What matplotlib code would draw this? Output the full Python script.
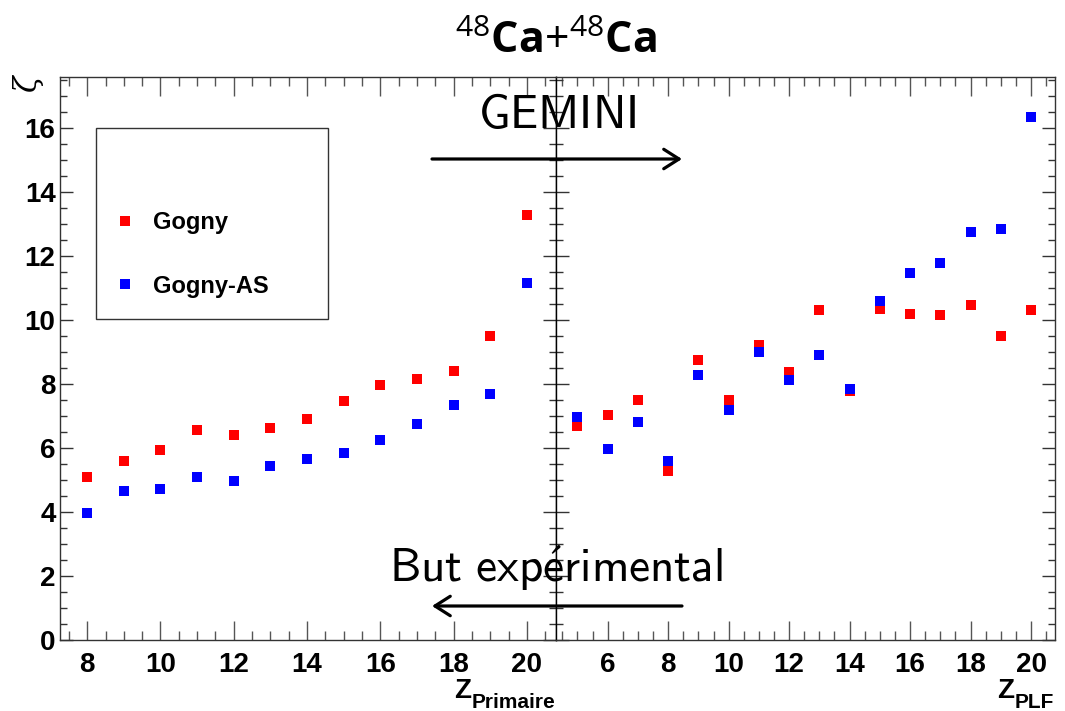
import numpy as np
import matplotlib
matplotlib.use("Agg")
import matplotlib.pyplot as plt
from matplotlib.ticker import MultipleLocator
from matplotlib.patches import Rectangle
from matplotlib.lines import Line2D

# donnees
z_prim = [8, 9, 10, 11, 12, 13, 14, 15, 16, 17, 18, 19, 20]
gogny_prim = [5.09, 5.58, 5.93, 6.55, 6.40, 6.63, 6.89, 7.45, 7.95, 8.16, 8.41, 9.49, 13.27]
gognyas_prim = [3.96, 4.65, 4.70, 5.09, 4.95, 5.44, 5.66, 5.83, 6.25, 6.74, 7.34, 7.68, 11.14]

z_plf = [5, 6, 7, 8, 9, 10, 11, 12, 13, 14, 15, 16, 17, 18, 19, 20]
gogny_plf = [6.69, 7.04, 7.48, 5.26, 8.75, 7.48, 9.20, 8.38, 10.30, 7.79, 10.35, 10.20, 10.15, 10.48, 9.49, 10.32]
gognyas_plf = [6.96, 5.96, 6.79, 5.60, 8.28, 7.19, 9.00, 8.12, 8.91, 7.83, 10.58, 11.48, 11.78, 12.75, 12.83, 16.36]

plt.rcParams['mathtext.fontset'] = 'custom'
plt.rcParams['mathtext.rm'] = 'Open Sans'
plt.rcParams['mathtext.bf'] = 'Open Sans:bold'

W, H = 1065, 711
fig = plt.figure(figsize=(W / 100, H / 100), dpi=100)

def fx(px):
    return px / W

def fy(py):
    return 1 - py / H

bottom = fy(639.5)
height = fy(77) - bottom
ax1 = fig.add_axes([fx(59.7), bottom, fx(556.3) - fx(59.7), height])
ax2 = fig.add_axes([fx(556.3), bottom, fx(1055.2) - fx(556.3), height])

ax1.plot(z_prim, gogny_prim, 's', color='#ff0000', ms=7.5, mew=0)
ax1.plot(z_prim, gognyas_prim, 's', color='#0000ff', ms=7.5, mew=0)
ax2.plot(z_plf, gogny_plf, 's', color='#ff0000', ms=7.5, mew=0)
ax2.plot(z_plf, gognyas_plf, 's', color='#0000ff', ms=7.5, mew=0)

ax1.set_xlim(7.25, 20.8)
ax2.set_xlim(4.3, 20.8)

for ax in (ax1, ax2):
    ax.set_ylim(0, 17.6)
    ax.xaxis.set_major_locator(MultipleLocator(2))
    ax.xaxis.set_minor_locator(MultipleLocator(0.5))
    ax.yaxis.set_major_locator(MultipleLocator(2))
    ax.yaxis.set_minor_locator(MultipleLocator(0.5))
    ax.tick_params(axis='x', which='major', direction='in', length=13.7, width=1,
                   top=True, bottom=True, color='#555555', pad=9,
                   labelsize=20)
    ax.tick_params(axis='x', which='minor', direction='in', length=6.8, width=1,
                   top=True, bottom=True, color='#555555')
    ax.tick_params(axis='y', which='major', direction='in', length=9.4, width=1,
                   left=True, right=True, color='#333333', pad=3, labelsize=20)
    ax.tick_params(axis='y', which='minor', direction='in', length=5, width=1,
                   left=True, right=True, color='#333333')
    for lab in ax.get_xticklabels() + ax.get_yticklabels():
        lab.set_fontweight('bold')
        lab.set_family('Liberation Sans')
    for sp in ax.spines.values():
        sp.set_color('#333333')
        sp.set_linewidth(1)

ax2.tick_params(axis='y', labelleft=False)
ax1.spines['right'].set_color('black')
ax2.spines['left'].set_color('black')

# titre
fig.text(fx(556), fy(53), r'${}^{\mathrm{48}}\mathbf{Ca}{+}{}^{\mathrm{48}}\mathbf{Ca}$',
         ha='center', va='baseline', fontsize=31)

# titres des axes
fig.text(fx(471), fy(698), 'Z', ha='right', va='baseline', fontsize=20,
         family='Liberation Sans', weight='bold')
fig.text(fx(472), fy(708), 'Primaire', ha='left', va='baseline', fontsize=15,
         family='Liberation Sans', weight='bold')
fig.text(fx(1014), fy(698), 'Z', ha='right', va='baseline', fontsize=20,
         family='Liberation Sans', weight='bold')
fig.text(fx(1015), fy(708), 'PLF', ha='left', va='baseline', fontsize=15,
         family='Liberation Sans', weight='bold')
fig.text(fx(28), fy(84), 'ζ', ha='center', va='center', rotation=90,
         fontsize=22, family='DejaVu Serif', style='italic')

# legende
fig.patches.append(Rectangle((fx(96), fy(319)), fx(328) - fx(96), fy(128) - fy(319),
                             transform=fig.transFigure, fill=False,
                             edgecolor='#333333', lw=1))
handles = [Line2D([], [], ls='none', marker='s', color='#ff0000', ms=7.5, mew=0),
           Line2D([], [], ls='none', marker='s', color='#0000ff', ms=7.5, mew=0)]
leg = fig.legend(handles, ['Gogny', 'Gogny-AS'], loc='center left',
                 bbox_to_anchor=(fx(113), fy(254.5)), frameon=False,
                 prop={'family': 'Liberation Sans', 'weight': 'bold', 'size': 17},
                 labelspacing=1.7, handletextpad=0.7, handlelength=1.0,
                 borderpad=0, borderaxespad=0)

# fleches et textes GEMINI
fig.text(fx(557), fy(128), r'$\mathsf{GEMINI}$', ha='center', va='baseline',
         fontsize=34, math_fontfamily='cm')
fig.text(fx(556), fy(582), r'$\mathsf{But\ exp\acute{e}rimental}$', ha='center',
         va='baseline', fontsize=34, math_fontfamily='cm')
arrow_style = '->,head_length=0.55,head_width=0.35'
fig.add_artist(plt.Annotation('', xy=(fx(682), fy(159)), xytext=(fx(432), fy(159)),
                              xycoords='figure fraction', textcoords='figure fraction',
                              arrowprops=dict(arrowstyle=arrow_style,
                                              lw=2.3, color='black', mutation_scale=20,
                                              shrinkA=0, shrinkB=0)))
fig.add_artist(plt.Annotation('', xy=(fx(432), fy(606)), xytext=(fx(682), fy(606)),
                              xycoords='figure fraction', textcoords='figure fraction',
                              arrowprops=dict(arrowstyle=arrow_style,
                                              lw=2.3, color='black', mutation_scale=20,
                                              shrinkA=0, shrinkB=0)))

fig.savefig('out.png', dpi=100)
